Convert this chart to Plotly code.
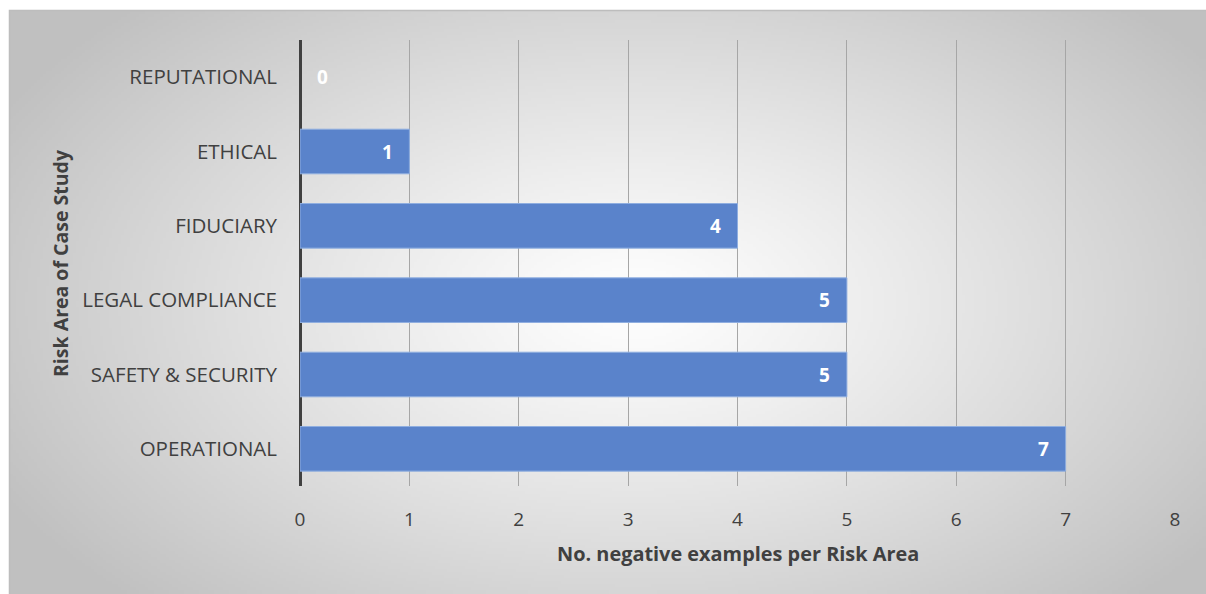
import base64
import struct
import zlib

import numpy as np
import plotly.graph_objects as go

# ---- data ----
categories = ["OPERATIONAL", "SAFETY & SECURITY", "LEGAL COMPLIANCE",
              "FIDUCIARY", "ETHICAL", "REPUTATIONAL"]
counts = [7, 5, 5, 4, 1, 0]
x_ticks = [0, 1, 2, 3, 4, 5, 6, 7, 8]

# ---- layout geometry (pixels) ----
W, H = 1206, 594
L, R, T, B = 300, 31, 40, 108
plot_w = W - L - R
plot_h = H - T - B
# chart panel extent
px0, py0, px1, py1 = 9, 10, 1206, 594


def radial_png(w, h):
    """Greyscale radial gradient, white in the middle fading to grey."""
    yy, xx = np.mgrid[0:h, 0:w]
    cx, cy = 0.52 * w, 0.50 * h
    r = np.sqrt(((xx - cx) / (0.60 * w)) ** 2 + ((yy - cy) / (0.72 * h)) ** 2)
    r = np.clip(r, 0, 1)
    v = (255 - (255 - 192) * r ** 1.15).astype(np.uint8)
    raw = b"".join(b"\x00" + v[i].tobytes() for i in range(h))

    def chunk(tag, data):
        c = struct.pack(">I", len(data)) + tag + data
        return c + struct.pack(">I", zlib.crc32(tag + data) & 0xFFFFFFFF)

    png = b"\x89PNG\r\n\x1a\n"
    png += chunk(b"IHDR", struct.pack(">IIBBBBB", w, h, 8, 0, 0, 0, 0))
    png += chunk(b"IDAT", zlib.compress(raw, 9))
    png += chunk(b"IEND", b"")
    return "data:image/png;base64," + base64.b64encode(png).decode()


def to_paper_x(px):
    return (px - L) / plot_w


def to_paper_y(py):
    return (H - B - py) / plot_h


font_family = "Open Sans, DejaVu Sans, sans-serif"

fig = go.Figure()
fig.add_trace(go.Bar(
    y=categories,
    x=counts,
    orientation="h",
    marker=dict(
        color="#5A83CB",
        line=dict(color="#8FAEE0", width=[1 if v > 0 else 0 for v in counts]),
    ),
    width=0.6,
    hoverinfo="x+y",
))

# value labels at the inner end of each bar
annotations = []
for cat, val in zip(categories, counts):
    annotations.append(dict(
        x=val, y=cat, xref="x", yref="y",
        text=f"<b>{val}</b>", showarrow=False,
        xanchor="center",
        xshift=-22 if val > 0 else 22,
        font=dict(family=font_family, size=19, color="white"),
    ))

# axis titles
annotations.append(dict(
    x=0.5, y=to_paper_y(553), xref="paper", yref="paper",
    text="<b>No. negative examples per Risk Area</b>", showarrow=False,
    xanchor="center", yanchor="middle",
    font=dict(family=font_family, size=19.9, color="#404040"),
))
annotations.append(dict(
    x=to_paper_x(60), y=0.5, xref="paper", yref="paper",
    text="<b>Risk Area of Case Study</b>", showarrow=False, textangle=-90,
    xanchor="center", yanchor="middle",
    font=dict(family=font_family, size=19.5, color="#404040"),
))

fig.update_layout(
    width=W, height=H,
    margin=dict(l=L, r=R, t=T, b=B, pad=0),
    paper_bgcolor="white",
    plot_bgcolor="rgba(0,0,0,0)",
    showlegend=False,
    bargap=0.4,
    annotations=annotations,
    images=[dict(
        source=radial_png(400, 196),
        xref="paper", yref="paper",
        x=to_paper_x(px0), y=to_paper_y(py0),
        sizex=(px1 - px0) / plot_w, sizey=(py1 - py0) / plot_h,
        sizing="stretch", layer="below",
        xanchor="left", yanchor="top",
    )],
    shapes=[dict(
        type="rect", xref="paper", yref="paper", layer="below",
        x0=to_paper_x(px0 + 0.5), x1=to_paper_x(px1 + 2),
        y0=to_paper_y(py1 + 2), y1=to_paper_y(py0 + 0.5),
        line=dict(color="#BDBDBD", width=1.5), fillcolor="rgba(0,0,0,0)",
    )],
    xaxis=dict(
        range=[0, 8],
        tickvals=x_ticks,
        ticktext=[str(t) for t in x_ticks],
        showgrid=True, gridcolor="#A6A6A6", gridwidth=1.2,
        zeroline=True, zerolinecolor="#404040", zerolinewidth=3,
        showline=False, ticks="",
        tickfont=dict(family=font_family, size=19, color="#404040"),
        ticklabelstandoff=20,
        fixedrange=True,
    ),
    yaxis=dict(
        categoryorder="array", categoryarray=categories,
        range=[-0.5, len(categories) - 0.5],
        showgrid=False, zeroline=False, showline=False, ticks="",
        tickfont=dict(family=font_family, size=20.5, color="#404040"),
        ticklabelstandoff=22,
        fixedrange=True,
    ),
)

fig.write_html("out.html")
